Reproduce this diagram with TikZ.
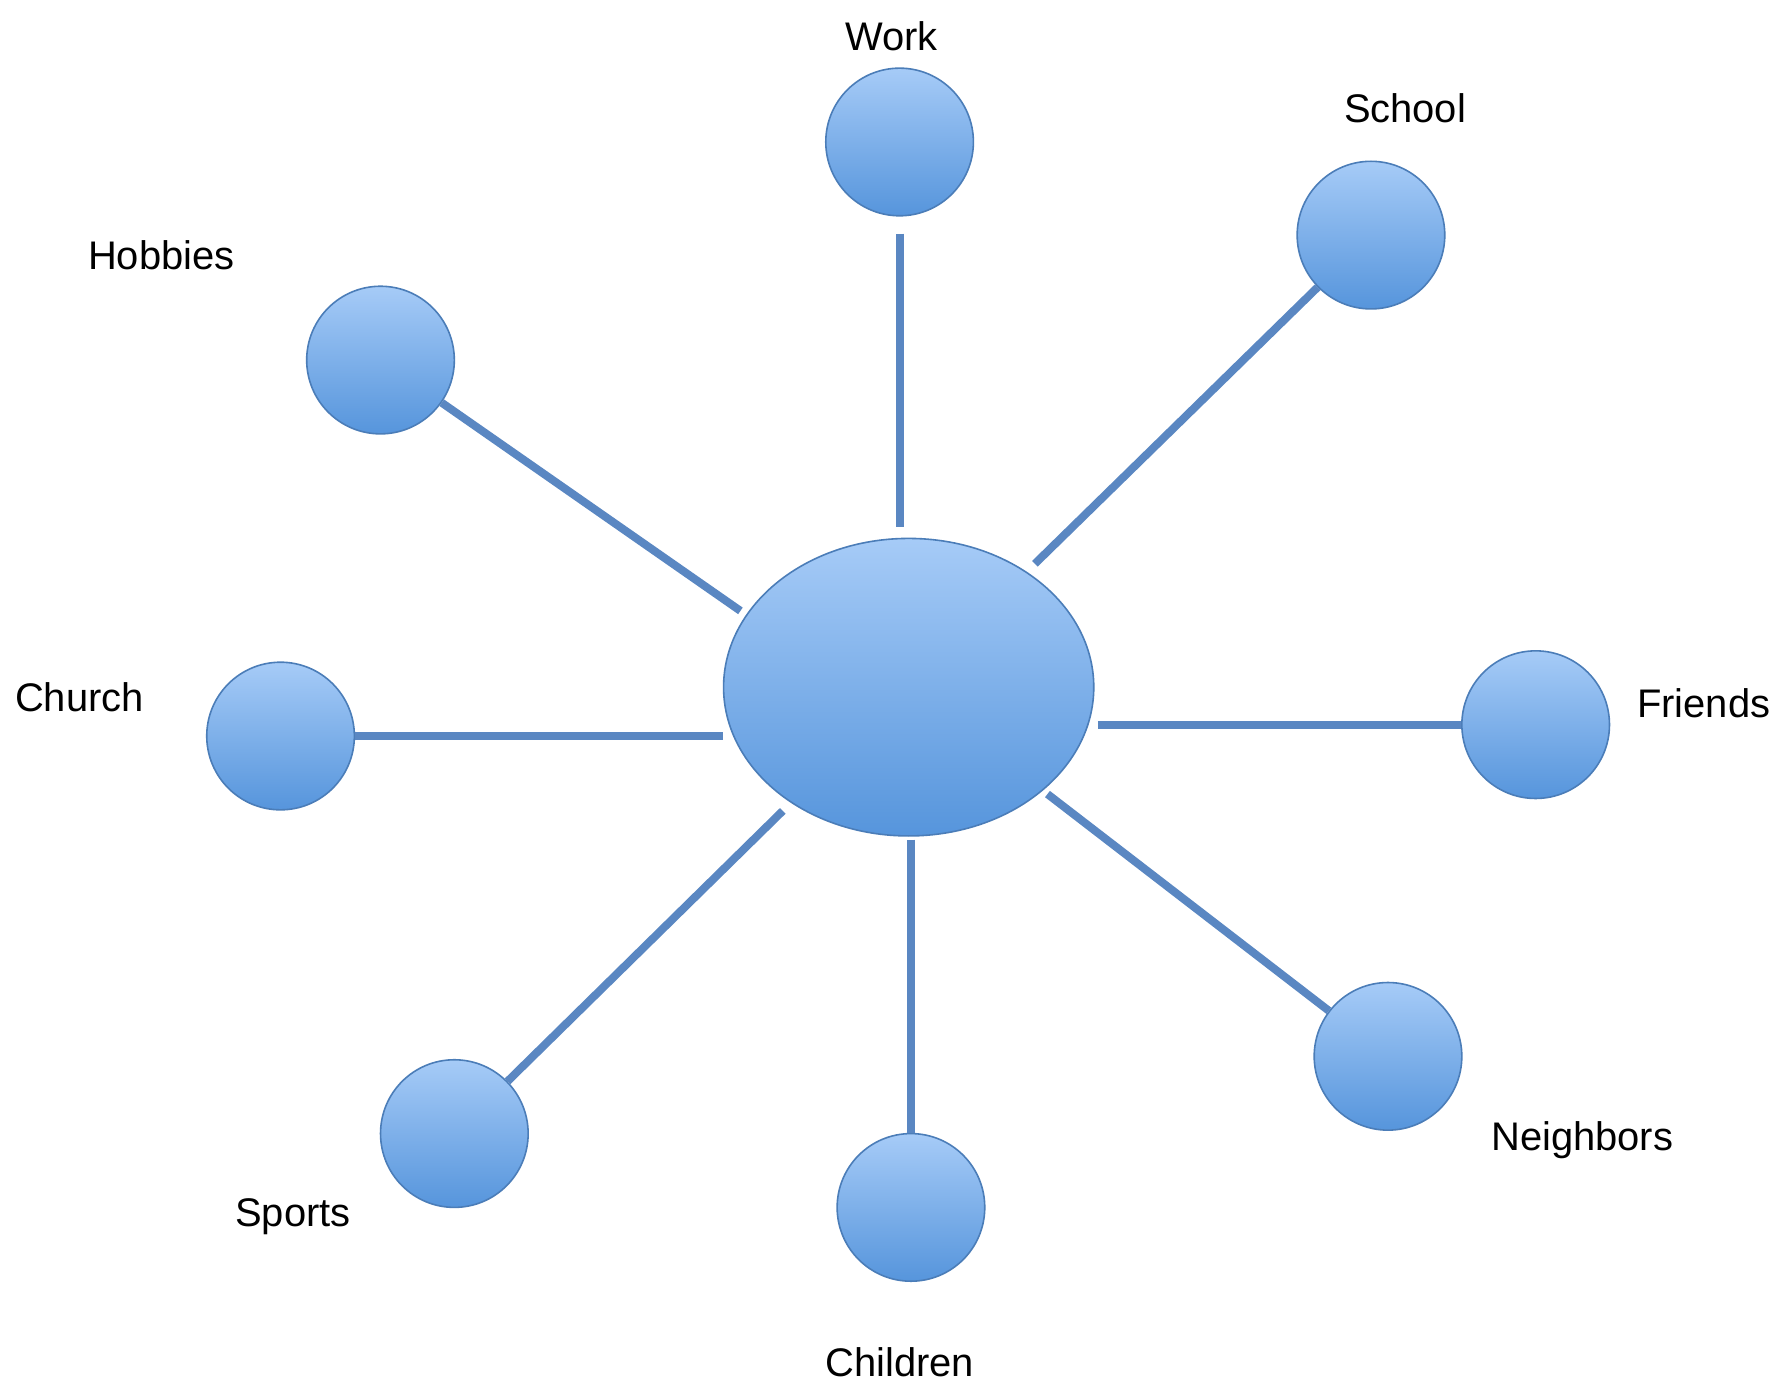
\documentclass[tikz,border=0pt]{standalone}
\usepackage{fontspec}
\setmainfont{Liberation Sans}
\usetikzlibrary{shapes.geometric}
\definecolor{topc}{HTML}{A6CBF7}
\definecolor{botc}{HTML}{5695DC}
\definecolor{edgec}{HTML}{4B7DB8}
\definecolor{linkc}{HTML}{5A87C2}
\tikzset{
  bubble/.style={circle, draw=edgec, line width=0.8pt, top color=topc, bottom color=botc, minimum size=2.6cm, inner sep=0pt},
  hub/.style={ellipse, draw=edgec, line width=0.8pt, top color=topc, bottom color=botc, minimum width=6.52cm, minimum height=5.24cm, inner sep=0pt},
  lbl/.style={font=\fontsize{20}{24}\selectfont, text=black, inner sep=0pt},
  link/.style={draw=linkc, line width=4pt}
}
\begin{document}
\begin{tikzpicture}[x=0.02cm, y=-0.02cm]
\useasboundingbox (0,0) rectangle (1568,1222);
\fill[white] (0,0) rectangle (1568,1222);
% nodes
\node[hub] (c) at (800,605) {};
\node[bubble] (work) at (792,125) {};
\node[bubble] (school) at (1207,207) {};
\node[bubble] (hobbies) at (335,317) {};
\node[bubble] (church) at (247,648) {};
\node[bubble] (friends) at (1352,638) {};
\node[bubble] (neighbors) at (1222,930) {};
\node[bubble] (children) at (802,1063) {};
\node[bubble] (sports) at (400,998) {};
% labels
\node[lbl] (lwork) at (785,32) {Work};
\node[lbl] (lschool) at (1237,95) {School};
\node[lbl] (lhobbies) at (142,225) {Hobbies};
\node[lbl] (lchurch) at (70,614) {Church};
\node[lbl] (lfriends) at (1500,619) {Friends};
\node[lbl] (lneighbors) at (1393,1004) {Neighbors};
\node[lbl] (lchildren) at (792,1199) {Children};
\node[lbl] (lsports) at (258,1071) {Sports};
% connectors
\draw[link, shorten <=0.3cm, shorten >=0.18cm] (work.south) -- (work |- c.north);
\draw[link, shorten >=0cm, shorten <=0.2cm] (c) -- (school);
\draw[link, shorten >=0.12cm] (hobbies) -- (c.156);
\draw[link] (church.east) -- (church -| c.west);
\draw[link, shorten <=0.06cm] (c.east |- friends) -- (friends.west);
\draw[link, shorten >=0cm, shorten <=0.1cm] (c) -- (neighbors);
\draw[link, shorten <=0.05cm] (children |- c.south) -- (children.north);
\draw[link, shorten >=0cm, shorten <=0.2cm] (c) -- (sports);
\end{tikzpicture}
\end{document}
